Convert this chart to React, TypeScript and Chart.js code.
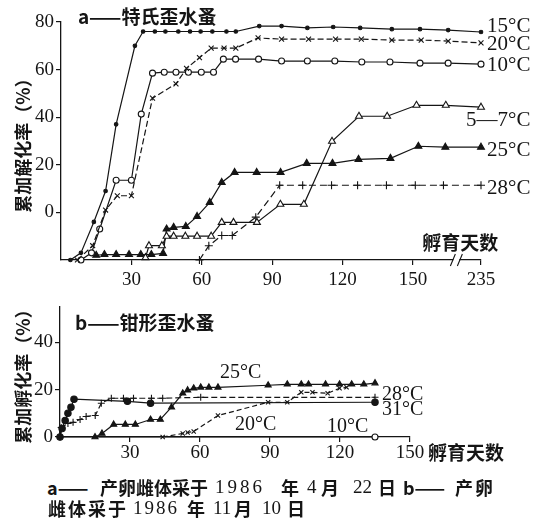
import React, { useEffect, useRef } from "react";
import { Chart, registerables } from "chart.js";

Chart.register(...registerables);

const INK = "#151515";
const SERIF = '"Liberation Serif", "Times New Roman", serif';
const CJK = '"Noto Sans CJK SC", "Noto Sans", sans-serif';

// ---------------- panel a: 特氏歪水蚤 ----------------
// x = 孵育天数 (days), y = 累加孵化率 (%), value as printed on the axis
const A_X_TICKS = [30, 60, 90, 120, 150, 235];
const A_Y_TICKS = [0, 20, 40, 60, 80];
const A_LAST_DAY = 235; // drawn after the axis break
const A_BREAK_AT = 179; // axis position standing for day 235

const a15 = [[4, -20], [8.5, -17], [14, -4], [19, 9], [23.5, 37], [31.5, 70], [35, 76], [40, 76], [44.5, 76], [50, 76], [55, 76], [59.5, 76], [64.5, 76], [70.5, 76], [74.5, 76], [84.5, 78.3], [94, 78.3], [105, 77.5], [116, 77.9], [127.5, 77.5], [141, 77], [153, 77], [165, 76.6], [235, 75.8]];
const a20 = [[7, -20], [13.5, -14], [19, 1], [24, 7], [30, 7], [39, 48], [49, 54], [53.5, 60.5], [59, 65], [64, 69], [69.5, 69], [74.5, 69], [84, 73.3], [94, 72.8], [105.5, 72.8], [117, 72.8], [128, 72.8], [141, 72.4], [153.5, 72.4], [165, 72], [235, 71.2]];
const a10 = [[8.5, -20], [13, -17], [16.5, -7], [23.5, 13.5], [30, 13.5], [34.2, 41.3], [39, 58.5], [44, 58.9], [49, 58.9], [54.3, 58.9], [59.8, 58.9], [65, 58.9], [69.2, 64.4], [74.4, 64.4], [84.2, 64.4], [94, 63.6], [105, 63.6], [116.7, 63.6], [128.2, 63.2], [140.2, 63.2], [153, 62.7], [165, 62.7], [235, 62.3]];
const a5_7 = [[36, -19], [37.5, -14], [43, -14], [45, -10], [48, -10], [53, -10], [58, -10], [64, -10], [68.5, -4.2], [73.5, -4.2], [83.5, -4.2], [93.5, 3.4], [103.5, 3.4], [115.5, 29.9], [127, 40.4], [139, 40.4], [151.5, 45], [164, 45], [235, 44.2]];
const a25 = [[15, -18], [18.5, -17.7], [23.5, -17.7], [29, -17.7], [34, -17.7], [38.5, -17.7], [43.5, -17.2], [45, -7], [48, -6.3], [53.2, -5.9], [58, -1.7], [63.4, 4.2], [68.5, 12.6], [74, 16.8], [83.4, 16.8], [93.6, 16.8], [104.7, 20.6], [115.7, 20.6], [126.8, 22.3], [140.4, 22.7], [152.3, 27.8], [163.8, 27.4], [235, 27.4]];
const a28 = [[59, -20], [63, -14], [68.5, -9.7], [73, -9.7], [83, -2], [93.2, 11.4], [103, 11.4], [115.3, 11.4], [126.4, 11.4], [138.7, 11.4], [151, 11.4], [163, 11.4], [235, 11.4]];

// ---------------- panel b: 钳形歪水蚤 ----------------
const B_X_TICKS = [30, 60, 90, 120, 150];
const B_Y_TICKS = [0, 20, 40];
const b25 = [[15, 0], [18, 1.5], [23, 5.3], [28, 5.3], [32.3, 5.3], [38.8, 7.4], [43, 7.4], [47.8, 12.6], [52.6, 18.5], [54.7, 19.8], [57.3, 20.6], [60.3, 21], [63.8, 21], [67.7, 21], [89.2, 21.9], [97.4, 22.3], [103.4, 22.3], [106.5, 22.3], [113.8, 22.3], [119.8, 22.3], [125, 22.3], [130.2, 22.3], [135, 22.8]];
const b28 = [[0, 0], [0.5, 4], [3.4, 5.7], [5.6, 6.2], [8.6, 7.4], [11.2, 8.7], [15.1, 9.1], [17.7, 14.3], [22, 16.4], [27.2, 16.4], [31.5, 16.4], [39.2, 16.4], [44, 16.4], [60.3, 16.8], [135, 16.8]];
const b31 = [[0, 0], [0.9, 3.6], [2.2, 7], [3.4, 10], [4.7, 12.6], [6, 16], [28.9, 15.1], [38.8, 14.3], [135, 14.7]];
const b20 = [[44, 0], [52.6, 1.5], [54.7, 1.9], [57.3, 2.3], [67.7, 9.1], [89.2, 14.7], [97.4, 14.7], [103.4, 18.9], [108.2, 18.9], [114.7, 18.5], [119.8, 20.6], [122.8, 21]];
const b10 = [[0, 0], [135, 0]];

const axX = (d: number) => (d === A_LAST_DAY ? A_BREAK_AT : d);

function series(data: number[][], style: any) {
  return {
    data: data.map(([d, v]) => ({ x: axX(d), y: v })),
    showLine: true,
    borderColor: INK,
    borderWidth: 1.2,
    pointBorderColor: INK,
    pointBackgroundColor: INK,
    pointBorderWidth: 1.1,
    pointHoverRadius: 0,
    tension: 0,
    clip: false,
    ...style,
  };
}

const labelPlugin = {
  id: "textLabels",
  afterDraw(chart: any, _a: any, opts: any) {
    const ctx = chart.ctx;
    const xs = chart.scales.x;
    const ys = chart.scales.y;
    ctx.save();
    ctx.fillStyle = INK;
    ctx.textBaseline = "middle";
    for (const l of opts.items || []) {
      ctx.font = l.font;
      ctx.textAlign = l.align || "left";
      const px = (l.fromRight ? chart.chartArea.right : xs.getPixelForValue(l.x)) + (l.dx || 0);
      const py = ys.getPixelForValue(l.y);
      ctx.fillText(l.text, px, py);
    }
    if (opts.breakAt !== undefined) {
      const bx = xs.getPixelForValue(opts.breakAt);
      const by = chart.chartArea.bottom;
      ctx.fillStyle = "#fff";
      ctx.fillRect(bx - 3, by - 3, 6, 6);
      ctx.strokeStyle = INK;
      ctx.lineWidth = 1.1;
      ctx.beginPath();
      ctx.moveTo(bx - 6, by + 6);
      ctx.lineTo(bx - 1, by - 6);
      ctx.moveTo(bx + 1, by + 6);
      ctx.lineTo(bx + 6, by - 6);
      ctx.stroke();
    }
    ctx.restore();
  },
};

const tickFont = { family: SERIF, size: 19 };
const cjkFont = (s: number) => `bold ${s}px ${CJK}`;
const serifFont = (s: number) => `${s}px ${SERIF}`;

function axisCommon() {
  return {
    border: { display: true, color: INK, width: 1.3 },
    grid: { display: true, drawOnChartArea: false, drawTicks: true, tickLength: 5, color: INK, lineWidth: 1.2 },
  };
}

function makeTop(canvas: HTMLCanvasElement) {
  return new Chart(canvas, {
    type: "scatter",
    data: {
      datasets: [
        series(a15, { pointStyle: "circle", pointRadius: 1.8 }),
        series(a20, { pointStyle: "crossRot", pointRadius: 3.5, borderDash: [6, 3] }),
        series(a10, { pointStyle: "circle", pointRadius: 3, pointBackgroundColor: "#fff" }),
        series(a5_7, { pointStyle: "triangle", pointRadius: 4, pointBackgroundColor: "#fff" }),
        series(a25, { pointStyle: "triangle", pointRadius: 4 }),
        series(a28, { pointStyle: "cross", pointRadius: 4, borderDash: [7, 4] }),
      ],
    },
    options: {
      responsive: false,
      animation: false,
      devicePixelRatio: 1,
      events: [],
      layout: { padding: { left: 0, right: 57, top: 22, bottom: 0 } },
      plugins: {
        legend: { display: false },
        tooltip: { enabled: false },
        textLabels: {
          breakAt: 168.5,
          items: [
            { text: "a——特氏歪水蚤", x: 7.2, y: 82.2, font: cjkFont(19) },
            { text: "15°C", fromRight: true, dx: 6, y: 78.3, font: serifFont(21) },
            { text: "20°C", fromRight: true, dx: 6, y: 70.7, font: serifFont(21) },
            { text: "10°C", fromRight: true, dx: 6, y: 61.9, font: serifFont(21) },
            { text: "5—7°C", fromRight: true, dx: -15, y: 38.7, font: serifFont(21) },
            { text: "25°C", fromRight: true, dx: 6, y: 26.1, font: serifFont(21) },
            { text: "28°C", fromRight: true, dx: 6, y: 10.1, font: serifFont(21) },
            { text: "孵育天数", x: 154, y: -12.6, font: cjkFont(19) },
          ],
        },
      } as any,
      scales: {
        x: {
          type: "linear",
          min: 0,
          max: A_BREAK_AT,
          ...axisCommon(),
          afterFit: (s: any) => { s.height = 40; },
          afterBuildTicks: (s: any) => { s.ticks = A_X_TICKS.map((v) => ({ value: axX(v) })); },
          ticks: {
            autoSkip: false,
            maxRotation: 0,
            padding: 4,
            color: INK,
            font: tickFont,
            callback: (v: any) => (v === A_BREAK_AT ? String(A_LAST_DAY) : String(v)),
          },
        },
        y: {
          type: "linear",
          min: -20,
          max: 80,
          ...axisCommon(),
          afterFit: (s: any) => { s.width = 61; },
          afterBuildTicks: (s: any) => { s.ticks = A_Y_TICKS.map((v) => ({ value: v })); },
          ticks: { padding: 2, color: INK, font: tickFont },
          title: {
            display: true,
            text: "累加解化率（%）",
            color: INK,
            font: { family: CJK, size: 18, weight: "bold" },
            padding: { top: 12, bottom: 0 },
          },
        },
      },
    } as any,
    plugins: [labelPlugin],
  });
}

function makeBottom(canvas: HTMLCanvasElement) {
  return new Chart(canvas, {
    type: "scatter",
    data: {
      datasets: [
        series(b10, { pointStyle: "circle", pointRadius: [0, 3], pointBackgroundColor: "#fff" }),
        series(b20, { pointStyle: "crossRot", pointRadius: 3, borderDash: [5, 3] }),
        series(b31, { pointStyle: "circle", pointRadius: 3.2 }),
        series(b28, { pointStyle: "cross", pointRadius: 3.5, borderDash: [6, 3] }),
        series(b25, { pointStyle: "triangle", pointRadius: 3.5 }),
      ],
    },
    options: {
      responsive: false,
      animation: false,
      devicePixelRatio: 1,
      events: [],
      layout: { padding: { left: 0, right: 128, top: 17, bottom: 0 } },
      plugins: {
        legend: { display: false },
        tooltip: { enabled: false },
        textLabels: {
          items: [
            { text: "b——钳形歪水蚤", x: 6.4, y: 48.3, font: cjkFont(19) },
            { text: "25°C", x: 68.6, y: 27.1, font: serifFont(20) },
            { text: "28°C", x: 138, y: 17.8, font: serifFont(20) },
            { text: "31°C", x: 138, y: 11.4, font: serifFont(20) },
            { text: "20°C", x: 75, y: 5.1, font: serifFont(20) },
            { text: "10°C", x: 114.4, y: 4.2, font: serifFont(20) },
            { text: "孵育天数", x: 157.7, y: -6.8, font: cjkFont(19) },
          ],
        },
      } as any,
      scales: {
        x: {
          type: "linear",
          min: 0,
          max: 150,
          ...axisCommon(),
          afterFit: (s: any) => { s.height = 33; },
          afterBuildTicks: (s: any) => { s.ticks = B_X_TICKS.map((v) => ({ value: v })); },
          ticks: { autoSkip: false, maxRotation: 0, padding: 0, color: INK, font: tickFont },
        },
        y: {
          type: "linear",
          min: 0,
          max: 55,
          ...axisCommon(),
          afterFit: (s: any) => { s.width = 60; },
          afterBuildTicks: (s: any) => { s.ticks = B_Y_TICKS.map((v) => ({ value: v })); },
          ticks: { padding: 2, color: INK, font: tickFont },
          title: {
            display: true,
            text: "累加孵化率（%）",
            color: INK,
            font: { family: CJK, size: 18, weight: "bold" },
            padding: { top: 12, bottom: 0 },
          },
        },
      },
    } as any,
    plugins: [labelPlugin],
  });
}

const NOTE_1 = [
  { t: "a——", x: 47, k: "c" },
  { t: "产卵雌体采于", x: 100, k: "c" },
  { t: "1986", x: 215, k: "n", ls: 3 },
  { t: "年", x: 281, k: "c" },
  { t: "4", x: 307, k: "n" },
  { t: "月", x: 321, k: "c" },
  { t: "22", x: 353, k: "n" },
  { t: "日", x: 378, k: "c" },
  { t: "b——", x: 403, k: "c" },
  { t: "产卵", x: 455, k: "c", ls: 2 },
];
const NOTE_2 = [
  { t: "雌体采于", x: 48, k: "c", ls: 2 },
  { t: "1986", x: 133, k: "n", ls: 2 },
  { t: "年", x: 187, k: "c" },
  { t: "11", x: 213, k: "n" },
  { t: "月", x: 234, k: "c" },
  { t: "10", x: 262, k: "n" },
  { t: "日", x: 287, k: "c" },
];

function NoteLine({ items, cy }: { items: any[]; cy: number }) {
  return (
    <>
      {items.map((s, i) => (
        <span
          key={i}
          style={{
            position: "absolute",
            left: s.x,
            top: cy - 12,
            height: 24,
            lineHeight: "24px",
            whiteSpace: "pre",
            color: INK,
            fontFamily: s.k === "c" ? CJK : SERIF,
            fontWeight: s.k === "c" ? 700 : 400,
            fontSize: s.k === "c" ? 18 : 19,
            letterSpacing: s.ls ? `${s.ls}px` : undefined,
          }}
        >
          {s.t}
        </span>
      ))}
    </>
  );
}

export default function App() {
  const topRef = useRef<HTMLCanvasElement>(null);
  const botRef = useRef<HTMLCanvasElement>(null);
  useEffect(() => {
    const c1 = makeTop(topRef.current!);
    const c2 = makeBottom(botRef.current!);
    return () => {
      c1.destroy();
      c2.destroy();
    };
  }, []);
  return (
    <div style={{ position: "absolute", left: 0, top: 0, width: 538, height: 521, background: "#fff", overflow: "hidden" }}>
      <canvas ref={topRef} width={538} height={300} style={{ position: "absolute", left: 0, top: 0 }} />
      <canvas ref={botRef} width={538} height={180} style={{ position: "absolute", left: 0, top: 290 }} />
      <NoteLine items={NOTE_1} cy={487} />
      <NoteLine items={NOTE_2} cy={508} />
    </div>
  );
}
